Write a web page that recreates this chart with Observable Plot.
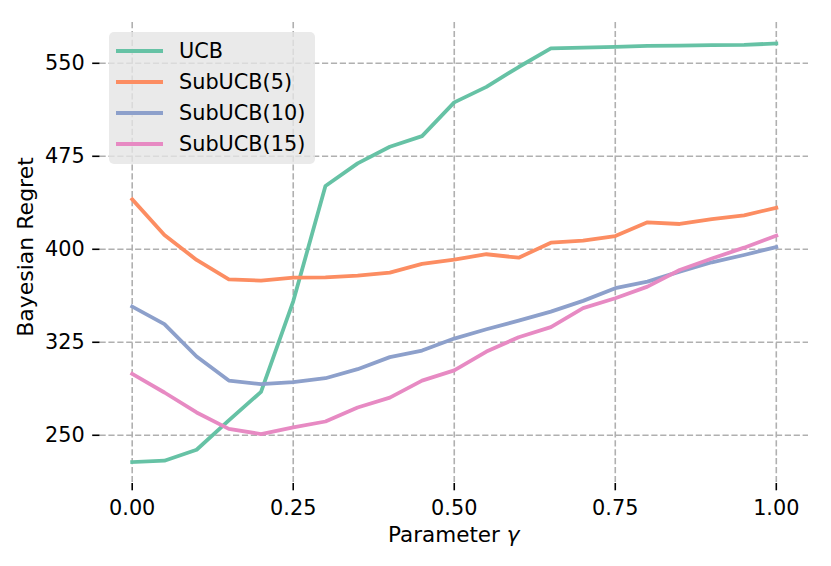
<!DOCTYPE html>
<html><head><meta charset="utf-8">
<script src="https://cdn.jsdelivr.net/npm/d3@7"></script>
<script src="https://cdn.jsdelivr.net/npm/@observablehq/plot@0.6"></script>
<style>
body{margin:0;background:#fff;}
#wrap{position:relative;width:831px;height:566px;font-family:"DejaVu Sans",sans-serif;}
#legend{position:absolute;left:109px;top:32px;width:206px;height:132px;background:rgba(229,229,229,0.8);border-radius:5px;box-sizing:border-box;padding-top:3.5px;}
.row{height:31px;display:flex;align-items:center;}
.sw{width:47px;height:4px;margin-left:7px;margin-right:16px;flex:none;}
.lab{font-size:20.8px;color:#000;line-height:1;}
</style></head><body><div id="wrap"></div>
<script>
const gammas = [0, 0.05, 0.1, 0.15, 0.2, 0.25, 0.3, 0.35, 0.4, 0.45, 0.5, 0.55, 0.6, 0.65, 0.7, 0.75, 0.8, 0.85, 0.9, 0.95, 1];
const seriesNames = ["UCB", "SubUCB(5)", "SubUCB(10)", "SubUCB(15)"];
const ucb = [228.4, 229.5, 238.3, 262, 285, 358, 451, 469.3, 482.7, 491.3, 518.5, 531, 547, 562, 562.7, 563.2, 564, 564.3, 564.6, 564.9, 566];
const sub5 = [440.3, 411.5, 391.4, 375.8, 374.7, 377.1, 377.4, 378.7, 381.2, 388.2, 391.7, 396, 393.2, 405.3, 406.9, 410.7, 421.7, 420.4, 424.4, 427.4, 433.5];
const sub10 = [353.8, 339.6, 313.5, 294.1, 291.2, 292.8, 296, 303.3, 313, 318.3, 328, 335.5, 342.5, 349.7, 358.4, 368.6, 373.9, 382, 389.5, 395.4, 401.8];
const sub15 = [299.5, 284.5, 268.4, 255.2, 251, 256.3, 261.1, 272.4, 280.4, 294.1, 302.3, 317.5, 329.1, 337.2, 352.5, 360.5, 369.9, 383.3, 392.5, 401.3, 411];
const colors = ["#66c2a5", "#fc8d62", "#8da0cb", "#e78ac3"];
const xTicks = [0, 0.25, 0.5, 0.75, 1];
const yTicks = [250, 325, 400, 475, 550];

const valuesBySeries = [ucb, sub5, sub10, sub15];
const data = [];
seriesNames.forEach((name, i) => {
  gammas.forEach((g, j) => data.push({series: name, gamma: g, value: valuesBySeries[i][j]}));
});

const gridStyle = {stroke: "#b0b0b0", strokeOpacity: 1, strokeWidth: 1.6, strokeDasharray: "6.2,2.7"};

const chart = Plot.plot({
  width: 831,
  height: 566,
  marginLeft: 99.5,
  marginRight: 23,
  marginTop: 22,
  marginBottom: 83,
  style: {fontFamily: '"DejaVu Sans", sans-serif', fontSize: "20.8px", background: "#fff", color: "#000"},
  x: {domain: [-0.05, 1.05]},
  y: {domain: [211.1, 582.9]},
  color: {domain: seriesNames, range: colors},
  marks: [
    Plot.gridX({ticks: xTicks, ...gridStyle}),
    Plot.gridY({ticks: yTicks, ...gridStyle}),
    Plot.axisX({ticks: xTicks, tickSize: 7.3, tickPadding: 9.5, strokeWidth: 1.6, tickFormat: d3.format(".2f"), label: null}),
    Plot.axisY({ticks: yTicks, tickSize: 7.3, tickPadding: 8, strokeWidth: 1.6, tickFormat: d => String(d), label: null}),
    Plot.line(data, {x: "gamma", y: "value", stroke: "series", z: "series", strokeWidth: 3.8, strokeLinejoin: "round", strokeLinecap: "square"})
  ]
});

const svg = d3.select(chart);
const xr = chart.scale("x").range;
svg.append("text")
  .attr("x", (xr[0] + xr[1]) / 2)
  .attr("y", 542)
  .attr("text-anchor", "middle")
  .style("font-size", "21.5px")
  .text("Parameter ")
  .append("tspan").style("font-style", "italic").text("γ");
svg.append("text")
  .attr("transform", "translate(32.5,247) rotate(-90)")
  .attr("text-anchor", "middle")
  .style("font-size", "22px")
  .text("Bayesian Regret");

const wrap = document.getElementById("wrap");
wrap.appendChild(chart);
const legend = document.createElement("div");
legend.id = "legend";
seriesNames.forEach((name, i) => {
  const row = document.createElement("div");
  row.className = "row";
  const sw = document.createElement("div");
  sw.className = "sw";
  sw.style.background = colors[i];
  const lab = document.createElement("span");
  lab.className = "lab";
  lab.textContent = name;
  row.appendChild(sw);
  row.appendChild(lab);
  legend.appendChild(row);
});
wrap.appendChild(legend);
</script>
</body></html>
